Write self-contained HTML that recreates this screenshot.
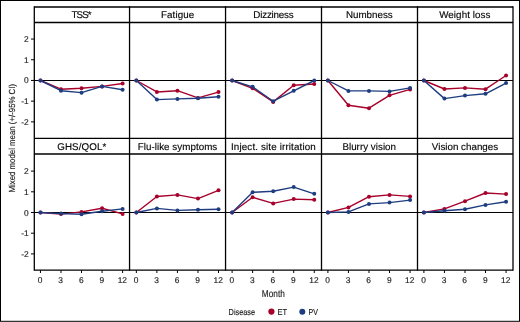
<!DOCTYPE html><html><head><meta charset="utf-8"><style>html,body{margin:0;padding:0;background:#fff;}svg{display:block;will-change:transform;}text{font-family:"Liberation Sans", sans-serif;text-rendering:geometricPrecision;stroke:#1a1a1a;stroke-width:0.15px;}</style></head><body>
<svg width="520" height="322" viewBox="0 0 520 322">
<rect x="0" y="0" width="520" height="322" fill="#fff"/>
<rect x="0.5" y="0.5" width="519" height="320.8" fill="none" stroke="#000" stroke-width="1"/>
<line x1="34.30" y1="80.50" x2="513.00" y2="80.50" stroke="#000" stroke-width="1"/>
<line x1="34.30" y1="212.50" x2="513.00" y2="212.50" stroke="#000" stroke-width="1"/>
<polyline points="40.45,80.50 60.99,89.20 81.53,88.20 102.07,86.40 122.61,83.50" fill="none" stroke="#a6002b" stroke-width="1.40" stroke-linejoin="round"/>
<circle cx="40.45" cy="80.50" r="2.00" fill="#a6002b"/>
<circle cx="60.99" cy="89.20" r="2.00" fill="#a6002b"/>
<circle cx="81.53" cy="88.20" r="2.00" fill="#a6002b"/>
<circle cx="102.07" cy="86.40" r="2.00" fill="#a6002b"/>
<circle cx="122.61" cy="83.50" r="2.00" fill="#a6002b"/>
<polyline points="40.45,80.50 60.99,90.70 81.53,92.65 102.07,86.40 122.61,89.70" fill="none" stroke="#1e3d80" stroke-width="1.40" stroke-linejoin="round"/>
<circle cx="40.45" cy="80.50" r="2.00" fill="#1e3d80"/>
<circle cx="60.99" cy="90.70" r="2.00" fill="#1e3d80"/>
<circle cx="81.53" cy="92.65" r="2.00" fill="#1e3d80"/>
<circle cx="102.07" cy="86.40" r="2.00" fill="#1e3d80"/>
<circle cx="122.61" cy="89.70" r="2.00" fill="#1e3d80"/>
<polyline points="136.35,80.50 156.89,91.95 177.43,90.70 197.97,97.90 218.51,92.10" fill="none" stroke="#a6002b" stroke-width="1.40" stroke-linejoin="round"/>
<circle cx="136.35" cy="80.50" r="2.00" fill="#a6002b"/>
<circle cx="156.89" cy="91.95" r="2.00" fill="#a6002b"/>
<circle cx="177.43" cy="90.70" r="2.00" fill="#a6002b"/>
<circle cx="197.97" cy="97.90" r="2.00" fill="#a6002b"/>
<circle cx="218.51" cy="92.10" r="2.00" fill="#a6002b"/>
<polyline points="136.35,80.50 156.89,99.60 177.43,98.90 197.97,98.20 218.51,96.75" fill="none" stroke="#1e3d80" stroke-width="1.40" stroke-linejoin="round"/>
<circle cx="136.35" cy="80.50" r="2.00" fill="#1e3d80"/>
<circle cx="156.89" cy="99.60" r="2.00" fill="#1e3d80"/>
<circle cx="177.43" cy="98.90" r="2.00" fill="#1e3d80"/>
<circle cx="197.97" cy="98.20" r="2.00" fill="#1e3d80"/>
<circle cx="218.51" cy="96.75" r="2.00" fill="#1e3d80"/>
<polyline points="232.10,80.50 252.64,88.30 273.18,101.90 293.72,85.30 314.26,84.00" fill="none" stroke="#a6002b" stroke-width="1.40" stroke-linejoin="round"/>
<circle cx="232.10" cy="80.50" r="2.00" fill="#a6002b"/>
<circle cx="252.64" cy="88.30" r="2.00" fill="#a6002b"/>
<circle cx="273.18" cy="101.90" r="2.00" fill="#a6002b"/>
<circle cx="293.72" cy="85.30" r="2.00" fill="#a6002b"/>
<circle cx="314.26" cy="84.00" r="2.00" fill="#a6002b"/>
<polyline points="232.10,80.50 252.64,86.80 273.18,101.20 293.72,90.80 314.26,80.50" fill="none" stroke="#1e3d80" stroke-width="1.40" stroke-linejoin="round"/>
<circle cx="232.10" cy="80.50" r="2.00" fill="#1e3d80"/>
<circle cx="252.64" cy="86.80" r="2.00" fill="#1e3d80"/>
<circle cx="273.18" cy="101.20" r="2.00" fill="#1e3d80"/>
<circle cx="293.72" cy="90.80" r="2.00" fill="#1e3d80"/>
<circle cx="314.26" cy="80.50" r="2.00" fill="#1e3d80"/>
<polyline points="327.90,80.50 348.44,105.30 368.98,108.20 389.52,95.30 410.06,89.40" fill="none" stroke="#a6002b" stroke-width="1.40" stroke-linejoin="round"/>
<circle cx="327.90" cy="80.50" r="2.00" fill="#a6002b"/>
<circle cx="348.44" cy="105.30" r="2.00" fill="#a6002b"/>
<circle cx="368.98" cy="108.20" r="2.00" fill="#a6002b"/>
<circle cx="389.52" cy="95.30" r="2.00" fill="#a6002b"/>
<circle cx="410.06" cy="89.40" r="2.00" fill="#a6002b"/>
<polyline points="327.90,80.50 348.44,90.90 368.98,90.90 389.52,91.40 410.06,87.90" fill="none" stroke="#1e3d80" stroke-width="1.40" stroke-linejoin="round"/>
<circle cx="327.90" cy="80.50" r="2.00" fill="#1e3d80"/>
<circle cx="348.44" cy="90.90" r="2.00" fill="#1e3d80"/>
<circle cx="368.98" cy="90.90" r="2.00" fill="#1e3d80"/>
<circle cx="389.52" cy="91.40" r="2.00" fill="#1e3d80"/>
<circle cx="410.06" cy="87.90" r="2.00" fill="#1e3d80"/>
<polyline points="423.90,80.50 444.44,89.00 464.98,87.90 485.52,89.20 506.06,75.50" fill="none" stroke="#a6002b" stroke-width="1.40" stroke-linejoin="round"/>
<circle cx="423.90" cy="80.50" r="2.00" fill="#a6002b"/>
<circle cx="444.44" cy="89.00" r="2.00" fill="#a6002b"/>
<circle cx="464.98" cy="87.90" r="2.00" fill="#a6002b"/>
<circle cx="485.52" cy="89.20" r="2.00" fill="#a6002b"/>
<circle cx="506.06" cy="75.50" r="2.00" fill="#a6002b"/>
<polyline points="423.90,80.50 444.44,98.60 464.98,95.60 485.52,93.80 506.06,83.10" fill="none" stroke="#1e3d80" stroke-width="1.40" stroke-linejoin="round"/>
<circle cx="423.90" cy="80.50" r="2.00" fill="#1e3d80"/>
<circle cx="444.44" cy="98.60" r="2.00" fill="#1e3d80"/>
<circle cx="464.98" cy="95.60" r="2.00" fill="#1e3d80"/>
<circle cx="485.52" cy="93.80" r="2.00" fill="#1e3d80"/>
<circle cx="506.06" cy="83.10" r="2.00" fill="#1e3d80"/>
<polyline points="40.45,212.50 60.99,214.10 81.53,211.90 102.07,208.30 122.61,213.90" fill="none" stroke="#a6002b" stroke-width="1.40" stroke-linejoin="round"/>
<circle cx="40.45" cy="212.50" r="2.00" fill="#a6002b"/>
<circle cx="60.99" cy="214.10" r="2.00" fill="#a6002b"/>
<circle cx="81.53" cy="211.90" r="2.00" fill="#a6002b"/>
<circle cx="102.07" cy="208.30" r="2.00" fill="#a6002b"/>
<circle cx="122.61" cy="213.90" r="2.00" fill="#a6002b"/>
<polyline points="40.45,212.50 60.99,213.60 81.53,214.30 102.07,211.20 122.61,208.90" fill="none" stroke="#1e3d80" stroke-width="1.40" stroke-linejoin="round"/>
<circle cx="40.45" cy="212.50" r="2.00" fill="#1e3d80"/>
<circle cx="60.99" cy="213.60" r="2.00" fill="#1e3d80"/>
<circle cx="81.53" cy="214.30" r="2.00" fill="#1e3d80"/>
<circle cx="102.07" cy="211.20" r="2.00" fill="#1e3d80"/>
<circle cx="122.61" cy="208.90" r="2.00" fill="#1e3d80"/>
<polyline points="136.35,212.50 156.89,196.50 177.43,194.90 197.97,198.60 218.51,190.30" fill="none" stroke="#a6002b" stroke-width="1.40" stroke-linejoin="round"/>
<circle cx="136.35" cy="212.50" r="2.00" fill="#a6002b"/>
<circle cx="156.89" cy="196.50" r="2.00" fill="#a6002b"/>
<circle cx="177.43" cy="194.90" r="2.00" fill="#a6002b"/>
<circle cx="197.97" cy="198.60" r="2.00" fill="#a6002b"/>
<circle cx="218.51" cy="190.30" r="2.00" fill="#a6002b"/>
<polyline points="136.35,212.50 156.89,208.40 177.43,210.40 197.97,209.70 218.51,209.30" fill="none" stroke="#1e3d80" stroke-width="1.40" stroke-linejoin="round"/>
<circle cx="136.35" cy="212.50" r="2.00" fill="#1e3d80"/>
<circle cx="156.89" cy="208.40" r="2.00" fill="#1e3d80"/>
<circle cx="177.43" cy="210.40" r="2.00" fill="#1e3d80"/>
<circle cx="197.97" cy="209.70" r="2.00" fill="#1e3d80"/>
<circle cx="218.51" cy="209.30" r="2.00" fill="#1e3d80"/>
<polyline points="232.10,212.50 252.64,197.30 273.18,203.40 293.72,199.10 314.26,199.70" fill="none" stroke="#a6002b" stroke-width="1.40" stroke-linejoin="round"/>
<circle cx="232.10" cy="212.50" r="2.00" fill="#a6002b"/>
<circle cx="252.64" cy="197.30" r="2.00" fill="#a6002b"/>
<circle cx="273.18" cy="203.40" r="2.00" fill="#a6002b"/>
<circle cx="293.72" cy="199.10" r="2.00" fill="#a6002b"/>
<circle cx="314.26" cy="199.70" r="2.00" fill="#a6002b"/>
<polyline points="232.10,212.50 252.64,192.30 273.18,191.20 293.72,187.10 314.26,193.80" fill="none" stroke="#1e3d80" stroke-width="1.40" stroke-linejoin="round"/>
<circle cx="232.10" cy="212.50" r="2.00" fill="#1e3d80"/>
<circle cx="252.64" cy="192.30" r="2.00" fill="#1e3d80"/>
<circle cx="273.18" cy="191.20" r="2.00" fill="#1e3d80"/>
<circle cx="293.72" cy="187.10" r="2.00" fill="#1e3d80"/>
<circle cx="314.26" cy="193.80" r="2.00" fill="#1e3d80"/>
<polyline points="327.90,212.50 348.44,207.40 368.98,196.70 389.52,194.90 410.06,196.40" fill="none" stroke="#a6002b" stroke-width="1.40" stroke-linejoin="round"/>
<circle cx="327.90" cy="212.50" r="2.00" fill="#a6002b"/>
<circle cx="348.44" cy="207.40" r="2.00" fill="#a6002b"/>
<circle cx="368.98" cy="196.70" r="2.00" fill="#a6002b"/>
<circle cx="389.52" cy="194.90" r="2.00" fill="#a6002b"/>
<circle cx="410.06" cy="196.40" r="2.00" fill="#a6002b"/>
<polyline points="327.90,212.50 348.44,211.90 368.98,203.90 389.52,202.60 410.06,200.10" fill="none" stroke="#1e3d80" stroke-width="1.40" stroke-linejoin="round"/>
<circle cx="327.90" cy="212.50" r="2.00" fill="#1e3d80"/>
<circle cx="348.44" cy="211.90" r="2.00" fill="#1e3d80"/>
<circle cx="368.98" cy="203.90" r="2.00" fill="#1e3d80"/>
<circle cx="389.52" cy="202.60" r="2.00" fill="#1e3d80"/>
<circle cx="410.06" cy="200.10" r="2.00" fill="#1e3d80"/>
<polyline points="423.90,212.50 444.44,208.90 464.98,201.20 485.52,193.00 506.06,194.10" fill="none" stroke="#a6002b" stroke-width="1.40" stroke-linejoin="round"/>
<circle cx="423.90" cy="212.50" r="2.00" fill="#a6002b"/>
<circle cx="444.44" cy="208.90" r="2.00" fill="#a6002b"/>
<circle cx="464.98" cy="201.20" r="2.00" fill="#a6002b"/>
<circle cx="485.52" cy="193.00" r="2.00" fill="#a6002b"/>
<circle cx="506.06" cy="194.10" r="2.00" fill="#a6002b"/>
<polyline points="423.90,212.50 444.44,210.80 464.98,209.30 485.52,204.90 506.06,201.70" fill="none" stroke="#1e3d80" stroke-width="1.40" stroke-linejoin="round"/>
<circle cx="423.90" cy="212.50" r="2.00" fill="#1e3d80"/>
<circle cx="444.44" cy="210.80" r="2.00" fill="#1e3d80"/>
<circle cx="464.98" cy="209.30" r="2.00" fill="#1e3d80"/>
<circle cx="485.52" cy="204.90" r="2.00" fill="#1e3d80"/>
<circle cx="506.06" cy="201.70" r="2.00" fill="#1e3d80"/>
<line x1="34.30" y1="7.00" x2="513.00" y2="7.00" stroke="#000" stroke-width="1.30"/>
<line x1="34.30" y1="22.50" x2="513.00" y2="22.50" stroke="#000" stroke-width="1.30"/>
<line x1="34.30" y1="138.30" x2="513.00" y2="138.30" stroke="#000" stroke-width="1.30"/>
<line x1="34.30" y1="154.00" x2="513.00" y2="154.00" stroke="#000" stroke-width="1.30"/>
<line x1="34.30" y1="270.20" x2="513.00" y2="270.20" stroke="#000" stroke-width="1.30"/>
<line x1="34.30" y1="6.35" x2="34.30" y2="270.85" stroke="#000" stroke-width="1.30"/>
<line x1="129.55" y1="6.35" x2="129.55" y2="270.85" stroke="#000" stroke-width="1.30"/>
<line x1="225.55" y1="6.35" x2="225.55" y2="270.85" stroke="#000" stroke-width="1.30"/>
<line x1="321.50" y1="6.35" x2="321.50" y2="270.85" stroke="#000" stroke-width="1.30"/>
<line x1="417.50" y1="6.35" x2="417.50" y2="270.85" stroke="#000" stroke-width="1.30"/>
<line x1="513.00" y1="6.35" x2="513.00" y2="270.85" stroke="#000" stroke-width="1.30"/>
<line x1="31.00" y1="121.85" x2="34.30" y2="121.85" stroke="#000" stroke-width="1.00"/>
<text x="28.6" y="124.85" font-size="8.4" text-anchor="end" fill="#222">-2</text>
<line x1="31.00" y1="101.15" x2="34.30" y2="101.15" stroke="#000" stroke-width="1.00"/>
<text x="28.6" y="104.15" font-size="8.4" text-anchor="end" fill="#222">-1</text>
<line x1="31.00" y1="80.45" x2="34.30" y2="80.45" stroke="#000" stroke-width="1.00"/>
<text x="28.6" y="83.45" font-size="8.4" text-anchor="end" fill="#222">0</text>
<line x1="31.00" y1="59.75" x2="34.30" y2="59.75" stroke="#000" stroke-width="1.00"/>
<text x="28.6" y="62.75" font-size="8.4" text-anchor="end" fill="#222">1</text>
<line x1="31.00" y1="39.05" x2="34.30" y2="39.05" stroke="#000" stroke-width="1.00"/>
<text x="28.6" y="42.05" font-size="8.4" text-anchor="end" fill="#222">2</text>
<line x1="31.00" y1="253.90" x2="34.30" y2="253.90" stroke="#000" stroke-width="1.00"/>
<text x="28.6" y="256.90" font-size="8.4" text-anchor="end" fill="#222">-2</text>
<line x1="31.00" y1="233.20" x2="34.30" y2="233.20" stroke="#000" stroke-width="1.00"/>
<text x="28.6" y="236.20" font-size="8.4" text-anchor="end" fill="#222">-1</text>
<line x1="31.00" y1="212.50" x2="34.30" y2="212.50" stroke="#000" stroke-width="1.00"/>
<text x="28.6" y="215.50" font-size="8.4" text-anchor="end" fill="#222">0</text>
<line x1="31.00" y1="191.80" x2="34.30" y2="191.80" stroke="#000" stroke-width="1.00"/>
<text x="28.6" y="194.80" font-size="8.4" text-anchor="end" fill="#222">1</text>
<line x1="31.00" y1="171.10" x2="34.30" y2="171.10" stroke="#000" stroke-width="1.00"/>
<text x="28.6" y="174.10" font-size="8.4" text-anchor="end" fill="#222">2</text>
<line x1="40.45" y1="270.20" x2="40.45" y2="273.00" stroke="#000" stroke-width="1.00"/>
<text x="40.15" y="283.1" font-size="8.4" text-anchor="middle" fill="#222">0</text>
<line x1="60.99" y1="270.20" x2="60.99" y2="273.00" stroke="#000" stroke-width="1.00"/>
<text x="60.69" y="283.1" font-size="8.4" text-anchor="middle" fill="#222">3</text>
<line x1="81.53" y1="270.20" x2="81.53" y2="273.00" stroke="#000" stroke-width="1.00"/>
<text x="81.23" y="283.1" font-size="8.4" text-anchor="middle" fill="#222">6</text>
<line x1="102.07" y1="270.20" x2="102.07" y2="273.00" stroke="#000" stroke-width="1.00"/>
<text x="101.77" y="283.1" font-size="8.4" text-anchor="middle" fill="#222">9</text>
<line x1="122.61" y1="270.20" x2="122.61" y2="273.00" stroke="#000" stroke-width="1.00"/>
<text x="122.31" y="283.1" font-size="8.4" text-anchor="middle" fill="#222">12</text>
<line x1="136.35" y1="270.20" x2="136.35" y2="273.00" stroke="#000" stroke-width="1.00"/>
<text x="136.05" y="283.1" font-size="8.4" text-anchor="middle" fill="#222">0</text>
<line x1="156.89" y1="270.20" x2="156.89" y2="273.00" stroke="#000" stroke-width="1.00"/>
<text x="156.59" y="283.1" font-size="8.4" text-anchor="middle" fill="#222">3</text>
<line x1="177.43" y1="270.20" x2="177.43" y2="273.00" stroke="#000" stroke-width="1.00"/>
<text x="177.13" y="283.1" font-size="8.4" text-anchor="middle" fill="#222">6</text>
<line x1="197.97" y1="270.20" x2="197.97" y2="273.00" stroke="#000" stroke-width="1.00"/>
<text x="197.67" y="283.1" font-size="8.4" text-anchor="middle" fill="#222">9</text>
<line x1="218.51" y1="270.20" x2="218.51" y2="273.00" stroke="#000" stroke-width="1.00"/>
<text x="218.21" y="283.1" font-size="8.4" text-anchor="middle" fill="#222">12</text>
<line x1="232.10" y1="270.20" x2="232.10" y2="273.00" stroke="#000" stroke-width="1.00"/>
<text x="231.80" y="283.1" font-size="8.4" text-anchor="middle" fill="#222">0</text>
<line x1="252.64" y1="270.20" x2="252.64" y2="273.00" stroke="#000" stroke-width="1.00"/>
<text x="252.34" y="283.1" font-size="8.4" text-anchor="middle" fill="#222">3</text>
<line x1="273.18" y1="270.20" x2="273.18" y2="273.00" stroke="#000" stroke-width="1.00"/>
<text x="272.88" y="283.1" font-size="8.4" text-anchor="middle" fill="#222">6</text>
<line x1="293.72" y1="270.20" x2="293.72" y2="273.00" stroke="#000" stroke-width="1.00"/>
<text x="293.42" y="283.1" font-size="8.4" text-anchor="middle" fill="#222">9</text>
<line x1="314.26" y1="270.20" x2="314.26" y2="273.00" stroke="#000" stroke-width="1.00"/>
<text x="313.96" y="283.1" font-size="8.4" text-anchor="middle" fill="#222">12</text>
<line x1="327.90" y1="270.20" x2="327.90" y2="273.00" stroke="#000" stroke-width="1.00"/>
<text x="327.60" y="283.1" font-size="8.4" text-anchor="middle" fill="#222">0</text>
<line x1="348.44" y1="270.20" x2="348.44" y2="273.00" stroke="#000" stroke-width="1.00"/>
<text x="348.14" y="283.1" font-size="8.4" text-anchor="middle" fill="#222">3</text>
<line x1="368.98" y1="270.20" x2="368.98" y2="273.00" stroke="#000" stroke-width="1.00"/>
<text x="368.68" y="283.1" font-size="8.4" text-anchor="middle" fill="#222">6</text>
<line x1="389.52" y1="270.20" x2="389.52" y2="273.00" stroke="#000" stroke-width="1.00"/>
<text x="389.22" y="283.1" font-size="8.4" text-anchor="middle" fill="#222">9</text>
<line x1="410.06" y1="270.20" x2="410.06" y2="273.00" stroke="#000" stroke-width="1.00"/>
<text x="409.76" y="283.1" font-size="8.4" text-anchor="middle" fill="#222">12</text>
<line x1="423.90" y1="270.20" x2="423.90" y2="273.00" stroke="#000" stroke-width="1.00"/>
<text x="423.60" y="283.1" font-size="8.4" text-anchor="middle" fill="#222">0</text>
<line x1="444.44" y1="270.20" x2="444.44" y2="273.00" stroke="#000" stroke-width="1.00"/>
<text x="444.14" y="283.1" font-size="8.4" text-anchor="middle" fill="#222">3</text>
<line x1="464.98" y1="270.20" x2="464.98" y2="273.00" stroke="#000" stroke-width="1.00"/>
<text x="464.68" y="283.1" font-size="8.4" text-anchor="middle" fill="#222">6</text>
<line x1="485.52" y1="270.20" x2="485.52" y2="273.00" stroke="#000" stroke-width="1.00"/>
<text x="485.22" y="283.1" font-size="8.4" text-anchor="middle" fill="#222">9</text>
<line x1="506.06" y1="270.20" x2="506.06" y2="273.00" stroke="#000" stroke-width="1.00"/>
<text x="505.76" y="283.1" font-size="8.4" text-anchor="middle" fill="#222">12</text>
<text x="81.60" y="17.55" font-size="9.8" text-anchor="middle" textLength="20.20" lengthAdjust="spacing" fill="#000">TSS*</text>
<text x="177.60" y="17.55" font-size="9.8" text-anchor="middle" textLength="33.30" lengthAdjust="spacing" fill="#000">Fatigue</text>
<text x="273.50" y="17.55" font-size="9.8" text-anchor="middle" textLength="40.30" lengthAdjust="spacing" fill="#000">Dizziness</text>
<text x="369.30" y="17.55" font-size="9.8" text-anchor="middle" textLength="46.80" lengthAdjust="spacing" fill="#000">Numbness</text>
<text x="464.80" y="17.55" font-size="9.8" text-anchor="middle" textLength="51.20" lengthAdjust="spacing" fill="#000">Weight loss</text>
<text x="81.80" y="149.55" font-size="9.8" text-anchor="middle" textLength="49.10" lengthAdjust="spacing" fill="#000">GHS/QOL*</text>
<text x="177.50" y="149.55" font-size="9.8" text-anchor="middle" textLength="79.50" lengthAdjust="spacing" fill="#000">Flu-like symptoms</text>
<text x="273.40" y="149.55" font-size="9.8" text-anchor="middle" textLength="84.80" lengthAdjust="spacing" fill="#000">Inject. site irritation</text>
<text x="369.20" y="149.55" font-size="9.8" text-anchor="middle" textLength="53.60" lengthAdjust="spacing" fill="#000">Blurry vision</text>
<text x="465.00" y="149.55" font-size="9.8" text-anchor="middle" textLength="66.30" lengthAdjust="spacing" fill="#000">Vision changes</text>
<text transform="translate(14.6,138.2) rotate(-90)" x="0" y="0" font-size="8.8" text-anchor="middle" textLength="108.5" lengthAdjust="spacingAndGlyphs" fill="#222">Mixed model mean (+/-95% CI)</text>
<text x="273.3" y="296.7" font-size="10" text-anchor="middle" textLength="23" lengthAdjust="spacingAndGlyphs" fill="#222">Month</text>
<text x="228.6" y="314.8" font-size="8.6" textLength="26.5" lengthAdjust="spacingAndGlyphs" fill="#222">Disease</text>
<circle cx="271.4" cy="311.6" r="3.1" fill="#a6002b"/>
<text x="277.4" y="314.8" font-size="8.6" textLength="9.6" lengthAdjust="spacingAndGlyphs" fill="#222">ET</text>
<circle cx="302.3" cy="311.8" r="3.0" fill="#1e3d80"/>
<text x="308.5" y="314.8" font-size="8.6" textLength="9.4" lengthAdjust="spacingAndGlyphs" fill="#222">PV</text>
</svg></body></html>
